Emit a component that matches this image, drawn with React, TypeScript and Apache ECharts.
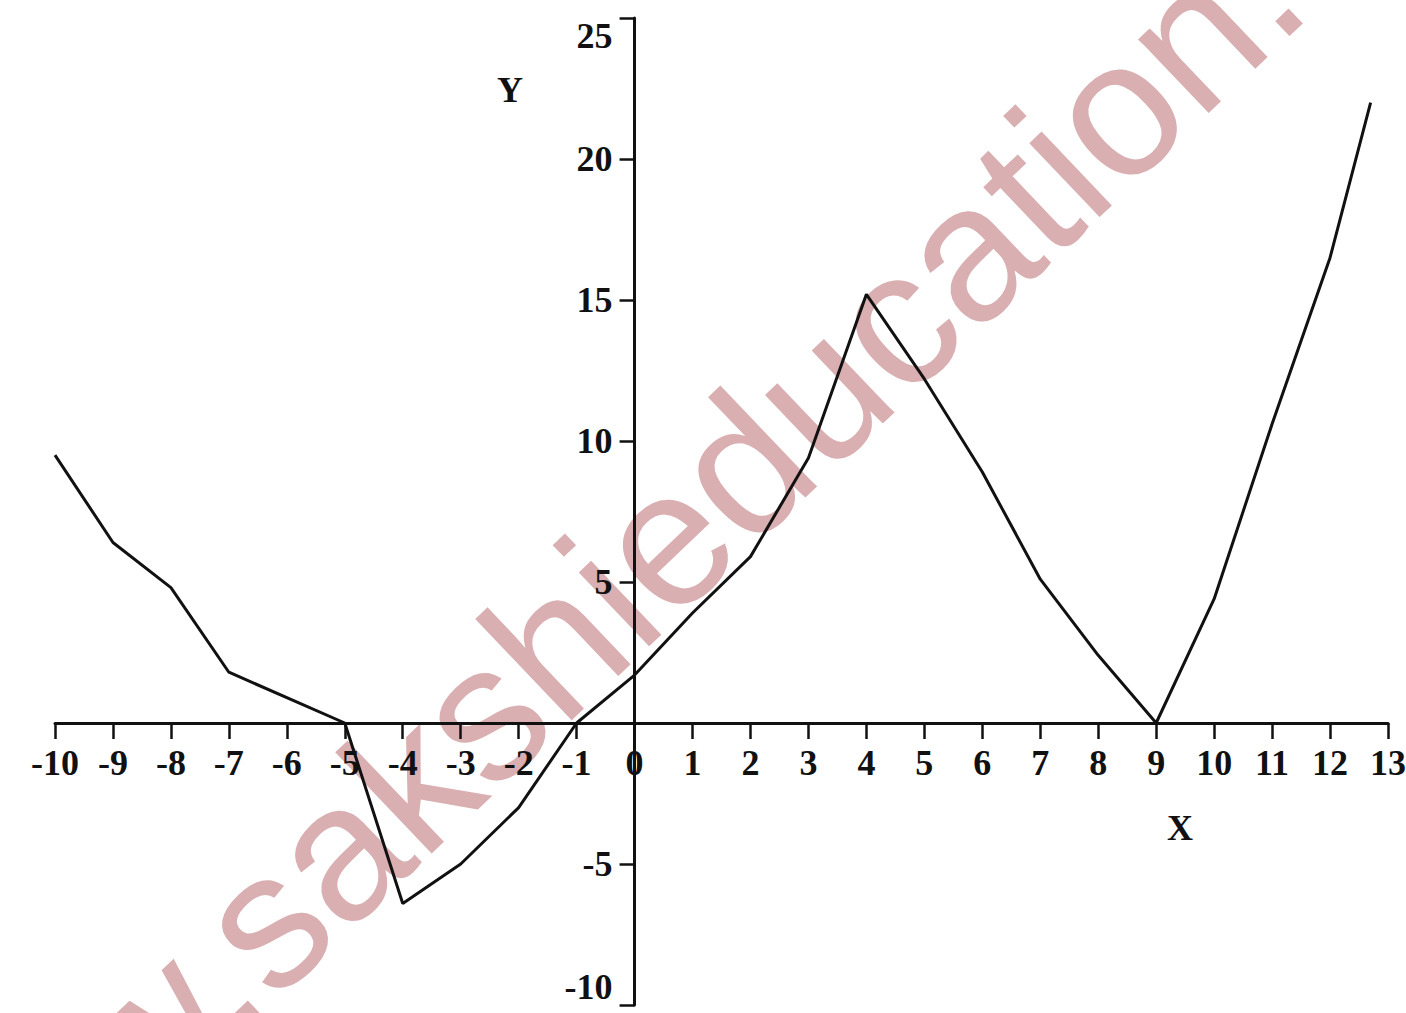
import React, { useEffect, useRef } from "react";
import * as echarts from "echarts";

// x positions of the drawn vertices and their y values
const xValues = [-10, -9, -8, -7, -5, -4, -3, -2, -1, 0, 1, 2, 3, 4, 5, 6, 7, 8, 9, 10, 11, 12, 12.7];
const yValues = [9.5, 6.4, 4.8, 1.8, 0, -6.4, -5.0, -3.0, 0, 1.7, 3.9, 5.9, 9.4, 15.2, 12.2, 8.9, 5.1, 2.4, 0, 4.4, 10.6, 16.5, 22];

const xRange = [-10, 13];
const xStep = 1;
const yRange = [-10, 25];
const yStep = 5;
const hiddenYLabels = [0];

const xName = "X";
const yName = "Y";
const watermark = "www.sakshieducation.com";

const LABEL_FONT = "'Liberation Serif', 'Times New Roman', serif";

const W = 1406;
const H = 1013;
const GRID = { left: 55, right: 18, top: 18, bottom: 8 };

export default function App() {
  const ref = useRef<HTMLDivElement>(null);

  useEffect(() => {
    if (!ref.current) return;
    const chart = echarts.init(ref.current, null, { renderer: "svg" });
    const points = xValues.map((x, i) => [x, yValues[i]]);

    // place both axes (line, ticks and labels) through the origin
    const plotW = W - GRID.left - GRID.right;
    const plotH = H - GRID.top - GRID.bottom;
    const zeroFromLeft = ((0 - xRange[0]) / (xRange[1] - xRange[0])) * plotW;
    const zeroFromBottom = ((0 - yRange[0]) / (yRange[1] - yRange[0])) * plotH;

    chart.setOption({
      animation: false,
      backgroundColor: "#ffffff",
      grid: {
        ...GRID,
        containLabel: false,
        outerBoundsMode: "none",
      },
      xAxis: {
        type: "value",
        position: "bottom",
        offset: -zeroFromBottom,
        min: xRange[0],
        max: xRange[1],
        interval: xStep,
        splitLine: { show: false },
        axisLine: { onZero: false, lineStyle: { color: "#111", width: 3 } },
        axisTick: { show: true, length: 16, lineStyle: { color: "#111", width: 2.5 } },
        axisLabel: {
          color: "#111",
          fontFamily: LABEL_FONT,
          fontWeight: "bold",
          fontSize: 36,
          margin: 22,
        },
      },
      yAxis: {
        type: "value",
        position: "left",
        offset: -zeroFromLeft,
        min: yRange[0],
        max: yRange[1],
        interval: yStep,
        splitLine: { show: false },
        axisLine: { onZero: false, lineStyle: { color: "#111", width: 3 } },
        axisTick: { show: true, length: 15, lineStyle: { color: "#111", width: 2.5 } },
        axisLabel: {
          color: "#111",
          fontFamily: LABEL_FONT,
          fontWeight: "bold",
          fontSize: 36,
          margin: 22,
          verticalAlignMaxLabel: "top",
          verticalAlignMinLabel: "bottom",
          formatter: (v: number) => (hiddenYLabels.includes(v) ? "" : String(v)),
        },
      },
      graphic: {
        elements: [
          {
            type: "text",
            x: 714,
            y: 492,
            rotation: (43.6 * Math.PI) / 180,
            z: -100,
            silent: true,
            style: {
              text: watermark,
              fontSize: 193,
              fontFamily: "'Liberation Sans', Arial, sans-serif",
              fill: "#d9afb1",
              align: "center",
              verticalAlign: "middle",
            },
          },
          {
            type: "text",
            x: 510,
            y: 90,
            z: 10,
            style: {
              text: yName,
              fontSize: 36,
              fontWeight: "bold",
              fontFamily: LABEL_FONT,
              fill: "#111",
              align: "center",
              verticalAlign: "middle",
            },
          },
          {
            type: "text",
            x: 1180,
            y: 828,
            z: 10,
            style: {
              text: xName,
              fontSize: 36,
              fontWeight: "bold",
              fontFamily: LABEL_FONT,
              fill: "#111",
              align: "center",
              verticalAlign: "middle",
            },
          },
        ],
      },
      series: [
        {
          type: "line",
          data: points,
          showSymbol: false,
          smooth: false,
          z: 5,
          lineStyle: { color: "#111", width: 3 },
        },
      ],
    });

    return () => chart.dispose();
  }, []);

  return (
    <div
      ref={ref}
      style={{ position: "absolute", left: 0, top: 0, width: W, height: H }}
    />
  );
}
